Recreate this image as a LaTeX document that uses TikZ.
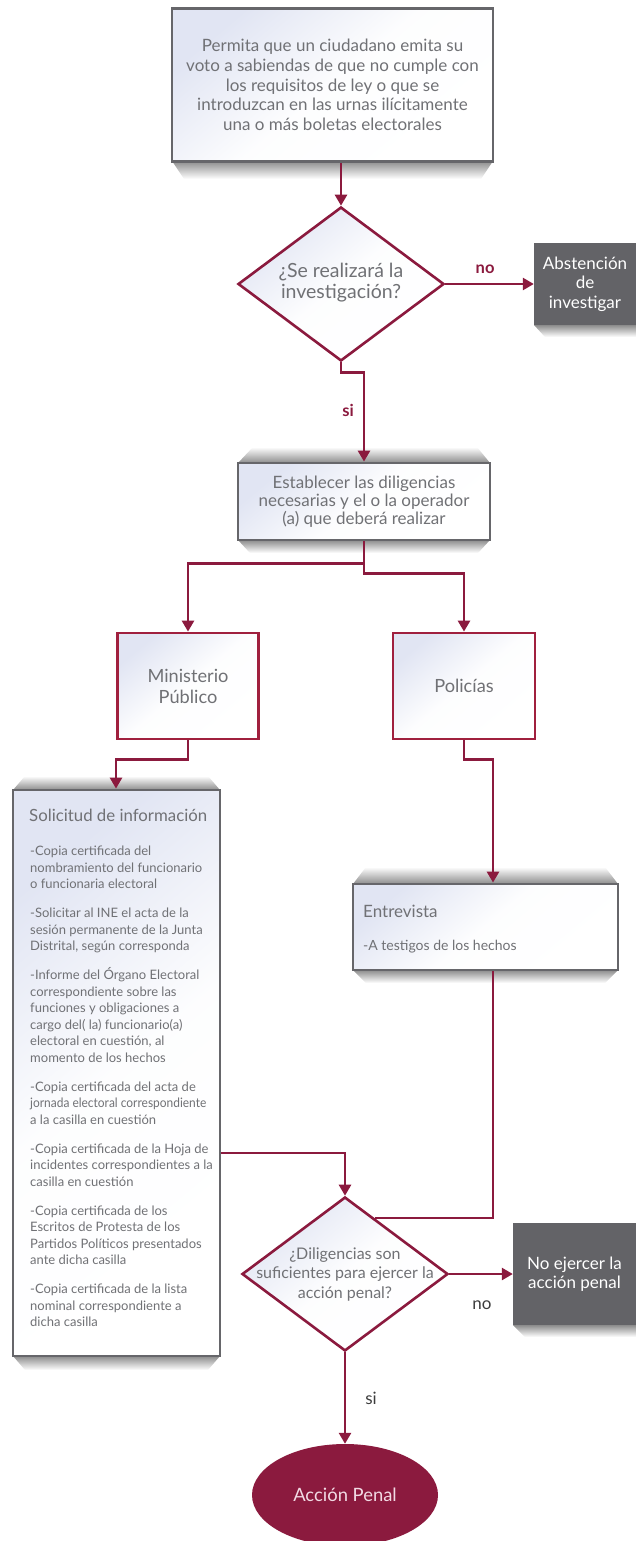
\documentclass[tikz,border=0pt]{standalone}
\usepackage{fontspec}
\usepackage{graphicx}
\setmainfont{Lato}
\usetikzlibrary{arrows.meta,shapes.geometric,calc}
\definecolor{wine}{RGB}{139,26,62}
\definecolor{winebox}{RGB}{160,32,62}
\definecolor{boxgray}{RGB}{102,102,106}
\definecolor{darkfill}{RGB}{99,99,103}
\definecolor{txtgray}{RGB}{112,113,117}
\definecolor{tint}{RGB}{225,229,243}
\definecolor{shadowgray}{RGB}{140,140,140}
\definecolor{labelgray}{RGB}{60,60,60}
\definecolor{pinkish}{RGB}{242,218,228}
\begin{document}
\begin{tikzpicture}[x=1pt,y=-1pt,
  conn/.style={draw=wine, line width=2.6pt},
  arr/.style={conn, -{Triangle[length=11pt,width=12pt]}},
  tintfill/.style={top color=tint, bottom color=white, middle color=white!94!tint, shading angle=40},
  graybox/.style={rectangle, draw=boxgray, line width=2.8pt, tintfill, inner sep=0pt, align=center, text=txtgray},
  winerect/.style={rectangle, draw=winebox, line width=2.8pt, tintfill, inner sep=0pt, align=center, text=txtgray, font=\fontsize{18.2}{21}\selectfont},
  darkbox/.style={rectangle, fill=darkfill, inner sep=0pt, align=center, text=white},
  diam/.style={diamond, draw=wine, line width=2.6pt, tintfill, minimum width=206pt, minimum height=154pt, inner sep=0pt},
  shadowdown/.style={top color=shadowgray, bottom color=white},
  shadowup/.style={top color=white, bottom color=shadowgray},
  redlabel/.style={text=wine, font=\fontsize{16.5}{18}\selectfont\bfseries, inner sep=0pt},
  graylabel/.style={text=labelgray, font=\fontsize{17}{18}\selectfont, inner sep=0pt},
]
\useasboundingbox (0,0) rectangle (636,1541);

% shadows
\shade[shadowdown] (172,161) -- (493,161) -- (481,179) -- (184,179) -- cycle;
\shade[shadowdown] (534,325) -- (636,325) -- (636,337) -- (545,337) -- cycle;
\shade[shadowup] (253,447) -- (477,447) -- (490,463) -- (238,463) -- cycle;
\shade[shadowdown] (238,540) -- (490,540) -- (478,553) -- (250,553) -- cycle;
\shade[shadowup] (25,776) -- (208,776) -- (220,790) -- (13,790) -- cycle;
\shade[shadowdown] (13,1356) -- (220,1356) -- (208,1370) -- (25,1370) -- cycle;
\shade[shadowup] (366,867) -- (605,867) -- (618,884) -- (353,884) -- cycle;
\shade[shadowdown] (353,970) -- (618,970) -- (605,983) -- (366,983) -- cycle;
\shade[shadowdown] (513,1325) -- (636,1325) -- (636,1337) -- (525,1337) -- cycle;

% nodes
\node[graybox, minimum width=321pt, minimum height=153pt, font=\fontsize{17}{19.6}\selectfont] (top) at (332.5,85)
  {Permita que un ciudadano emita su\\voto a sabiendas de que no cumple con\\los requisitos de ley o que se\\introduzcan en las urnas ilícitamente\\una o más boletas electorales};

\node[diam] (d1) at (341,284) {};
\node[text=txtgray, align=center, font=\fontsize{19.5}{21}\selectfont, inner sep=0pt] (d1t) at (341,283) {¿Se realizará la\\investigación?};

\node[darkbox, minimum width=102pt, minimum height=82pt, font=\fontsize{17}{19.5}\selectfont] (abs) at (585,284) {Abstención\\de\\investigar};

\node[graybox, minimum width=252pt, minimum height=77pt, font=\fontsize{17}{17.8}\selectfont] (b2) at (364,501.5)
  {Establecer las diligencias\\necesarias y el o la operador\\(a) que deberá realizar};

\node[winerect, minimum width=141pt, minimum height=106pt] (mp) at (188,686) {Ministerio\\Público};
\node[winerect, minimum width=142pt, minimum height=106pt] (pol) at (464,686) {Policías};

\node[graybox, minimum width=207pt, minimum height=566pt] (sol) at (116.5,1073) {};
\node[anchor=west, text=txtgray, font=\fontsize{16.8}{20}\selectfont, inner sep=0pt] (soltitle) at (29,815) {Solicitud de información};
\node[anchor=north west, align=left, text=txtgray, font=\fontsize{13}{16.5}\selectfont, inner sep=0pt] (solitems) at (30,846)
  {-Copia certificada del\\nombramiento del funcionario\\o funcionaria electoral\\[12.5pt]
   -Solicitar al INE el acta de la\\sesión permanente de la Junta\\Distrital, según corresponda\\[12.5pt]
   -Informe del Órgano Electoral\\correspondiente sobre las\\funciones y obligaciones a\\cargo del( la) funcionario(a)\\electoral en cuestión, al\\momento de los hechos\\[12.5pt]
   -Copia certificada del acta de\\\scalebox{0.92}[1]{jornada electoral correspondiente}\\a la casilla en cuestión\\[12.5pt]
   -Copia certificada de la Hoja de\\incidentes correspondientes a la\\casilla en cuestión\\[12.5pt]
   -Copia certificada de los\\Escritos de Protesta de los\\Partidos Políticos presentados\\ante dicha casilla\\[12.5pt]
   -Copia certificada de la lista\\nominal correspondiente a\\dicha casilla};

\node[graybox, minimum width=265pt, minimum height=86pt] (ent) at (485.5,927) {};
\node[anchor=west, text=txtgray, font=\fontsize{17}{19}\selectfont, inner sep=0pt] (enttitle) at (363,911) {Entrevista};
\node[anchor=west, text=txtgray, font=\fontsize{14}{16}\selectfont, inner sep=0pt] (entitem) at (363,947) {-A testigos de los hechos};

\node[diam] (d2) at (345,1274) {};
\node[text=txtgray, align=center, font=\fontsize{16}{19.5}\selectfont, inner sep=0pt] (d2t) at (345,1274) {¿Diligencias son\\suficientes para ejercer la\\acción penal?};

\node[darkbox, minimum width=123pt, minimum height=102pt, font=\fontsize{17}{19.5}\selectfont] (noej) at (574.5,1274) {No ejercer la\\acción penal};

\node[ellipse, fill=wine, minimum width=186pt, minimum height=102pt, inner sep=0pt, text=pinkish, font=\fontsize{18.4}{20}\selectfont] (acc) at (345,1495) {Acción Penal};

% helper coordinates
\coordinate (ex) at (493,0);
\coordinate (sx) at (116,0);

% connectors
\draw[arr] (d1.north |- top.south) -- (d1.north);
\draw[arr] (d1.east) -- node[redlabel, pos=0.45, above=9pt] (nolab) {no} (abs.west);
\draw[arr] (d1.south) -- ++(0,10) -| (b2.north);
\node[redlabel] (silab) at (348,410) {si};
\draw[arr] (b2.south) -- ++(0,22) -| (mp.north);
\draw[arr] (b2.south) -- ++(0,32) -| (pol.north);
\draw[arr] (mp.south) -- ++(0,19) -| (sx |- sol.north);
\draw[arr] (pol.south) -- ++(0,19) -| (ex |- ent.north);
\draw[conn] (ex |- ent.south) |- (d2.62);
\draw[arr] ([yshift=-80pt]sol.east) -| (d2.north);
\draw[arr] (d2.east) -- (noej.west);
\node[graylabel] (no2lab) at (482,1305) {no};
\draw[arr] (d2.south) -- (acc.north);
\node[graylabel] (si2lab) at (371,1398) {si};
\end{tikzpicture}
\end{document}
